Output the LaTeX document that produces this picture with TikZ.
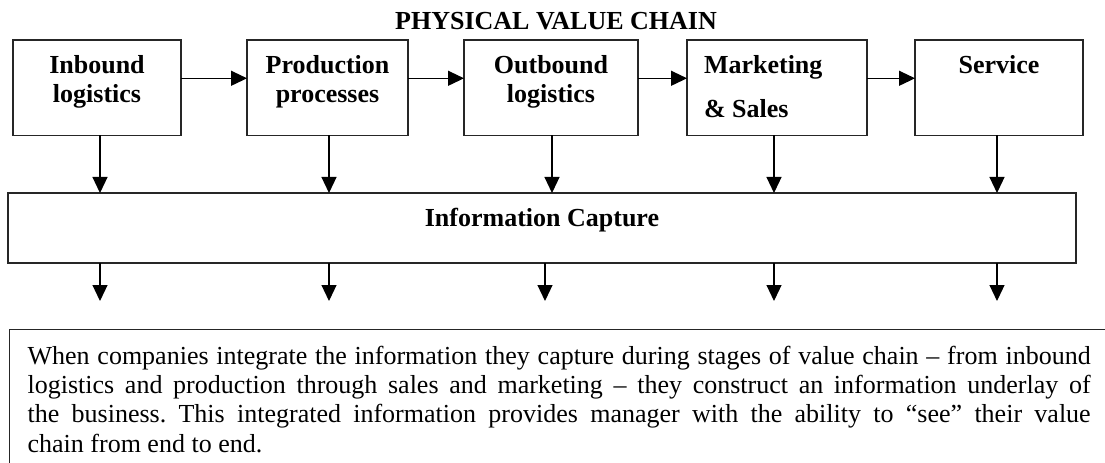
\documentclass[tikz,border=0pt]{standalone}
\usepackage{fontspec}
\setmainfont{Liberation Serif}
\usetikzlibrary{arrows.meta}

\tikzset{
  stage/.style={draw=black!85, line width=0.95pt, inner sep=0pt, outer sep=0pt,
    font=\fontsize{19.5pt}{21.75pt}\selectfont\bfseries},
  flow/.style={draw=black, line width=0.9pt,
    -{Triangle[length=12pt, width=11.25pt]}},
  notebox/.style={draw=black!85, line width=0.95pt, inner xsep=13.5pt, inner ysep=0pt,
    font=\fontsize{19.5pt}{22pt}\selectfont}
}

\begin{document}
\begin{tikzpicture}[x=0.75pt, y=-0.75pt]
  \clip (0,0) rectangle (1105,463);

  % heading
  \node[font=\fontsize{19.5pt}{21.75pt}\selectfont\bfseries, anchor=base, inner sep=0pt]
    (title) at (556,30) {PHYSICAL VALUE CHAIN};

  % the five stages of the physical chain
  \node[stage, anchor=north west] (inb) at (13,40)
    {\parbox[c][71.625pt][t]{126pt}{\centering\rule{0pt}{25.5pt}Inbound\\logistics}};
  \node[stage, anchor=north west] (prod) at (247,40)
    {\parbox[c][71.625pt][t]{120.75pt}{\centering\rule{0pt}{25.5pt}Production\\processes}};
  \node[stage, anchor=north west] (outb) at (464,40)
    {\parbox[c][71.625pt][t]{130.5pt}{\centering\rule{0pt}{25.5pt}Outbound\\logistics}};
  \node[stage, anchor=north west] (mkt) at (687,40)
    {\parbox[c][71.625pt][t]{135pt}{\raggedright\leftskip=12.75pt\rule{0pt}{25.5pt}Marketing\\[11.25pt]\& Sales}};
  \node[stage, anchor=north west] (serv) at (915,40)
    {\parbox[c][71.625pt][t]{126pt}{\centering\rule{0pt}{25.5pt}Service}};

  % capture layer
  \node[stage, anchor=north west] (info) at (8,193)
    {\parbox[c][52.5pt][t]{801pt}{\centering\rule{0pt}{24.75pt}Information Capture}};

  % explanatory note
  \node[notebox, anchor=north west] (note) at (9,329)
    {\parbox[c][112.5pt][t]{797.25pt}{\frenchspacing\hyphenpenalty=10000\tolerance=9999\rule{0pt}{26pt}When companies integrate the information they capture during stages of value chain – from inbound\linebreak
     logistics and production through sales and marketing – they construct an information underlay of\linebreak
     the business. This integrated information provides manager with the ability to “see” their value\linebreak
     chain from end to end.}};

  % flow along the chain
  \draw[flow] ([yshift=7.1pt]inb.east)  -- ([yshift=7.1pt]prod.west);
  \draw[flow] ([yshift=7.1pt]prod.east) -- ([yshift=7.1pt]outb.west);
  \draw[flow] ([yshift=7.1pt]outb.east) -- ([yshift=7.1pt]mkt.west);
  \draw[flow] ([yshift=7.1pt]mkt.east)  -- ([yshift=7.1pt]serv.west);

  % each stage feeds the capture layer
  \draw[flow] (inb.south -| 100,0)  -- (info.north -| 100,0);
  \draw[flow] (prod.south -| 329,0) -- (info.north -| 329,0);
  \draw[flow] (outb.south -| 552,0) -- (info.north -| 552,0);
  \draw[flow] (mkt.south -| 774,0)  -- (info.north -| 774,0);
  \draw[flow] (serv.south -| 997,0) -- (info.north -| 997,0);

  % outputs of the capture layer
  \coordinate (o1) at (100,301);
  \coordinate (o2) at (329,301);
  \coordinate (o3) at (545,301);
  \coordinate (o4) at (774,301);
  \coordinate (o5) at (997,301);
  \foreach \o in {o1,o2,o3,o4,o5}
    \draw[flow] (info.south -| \o) -- (\o);
\end{tikzpicture}
\end{document}
